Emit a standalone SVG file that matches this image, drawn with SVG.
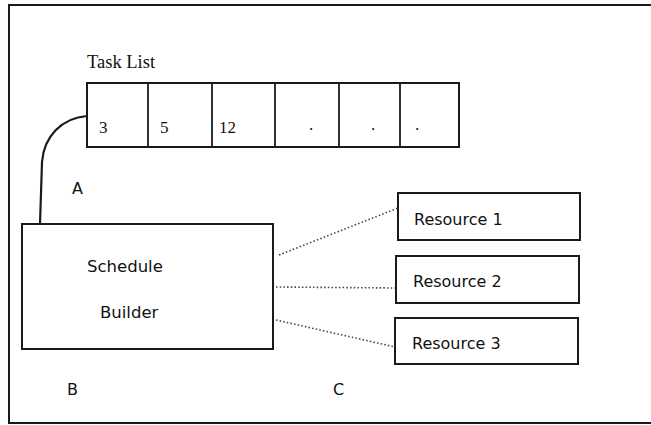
<svg xmlns="http://www.w3.org/2000/svg" width="651" height="425" viewBox="0 0 651 425">
<style>
.box{fill:#fff;stroke:#1a1a1a;stroke-width:2}
.cell{stroke:#1a1a1a;stroke-width:1.8}
.serif{font-family:"Liberation Serif","Times New Roman",serif;fill:#111}
.sans{font-family:"DejaVu Sans","Liberation Sans",sans-serif;fill:#111}
.dot{fill:none;stroke:#444;stroke-width:1.6;stroke-dasharray:1.5 2.2}
.solid{fill:none;stroke:#1a1a1a;stroke-width:2.2}
</style>
<rect width="651" height="425" fill="#fff"/>
<g id="frame">
<path d="M651,5 L9,5 L9,423 L651,423" fill="none" stroke="#1a1a1a" stroke-width="2"/>
</g>
<g id="task-list">
<text class="serif" x="87" y="68" font-size="18.5">Task List</text>
<rect class="box" x="87" y="83" width="372" height="64"/>
<line class="cell" x1="148" y1="83" x2="148" y2="147"/>
<line class="cell" x1="212" y1="83" x2="212" y2="147"/>
<line class="cell" x1="275" y1="83" x2="275" y2="147"/>
<line class="cell" x1="339" y1="83" x2="339" y2="147"/>
<line class="cell" x1="400" y1="83" x2="400" y2="147"/>
<text class="serif" x="99" y="133" font-size="17">3</text>
<text class="serif" x="160" y="133" font-size="17">5</text>
<text class="serif" x="219" y="133" font-size="17">12</text>
<text class="serif" x="309" y="130" font-size="17">.</text>
<text class="serif" x="371" y="130" font-size="17">.</text>
<text class="serif" x="415" y="130" font-size="17">.</text>
</g>
<g id="schedule-builder">
<rect class="box" x="22" y="224" width="251" height="125"/>
<text class="sans" x="87" y="272" font-size="16.5">Schedule</text>
<text class="sans" x="100" y="318" font-size="16.5">Builder</text>
</g>
<g id="resource-1">
<rect class="box" x="398" y="193" width="182" height="47"/>
<text class="sans" x="414" y="225" font-size="16">Resource 1</text>
</g>
<g id="resource-2">
<rect class="box" x="396" y="256" width="183" height="47"/>
<text class="sans" x="413" y="287" font-size="16">Resource 2</text>
</g>
<g id="resource-3">
<rect class="box" x="395" y="318" width="183" height="46"/>
<text class="sans" x="412" y="349" font-size="16">Resource 3</text>
</g>
<g id="labels">
<text class="sans" x="72" y="194" font-size="16">A</text>
<text class="sans" x="67" y="395" font-size="16">B</text>
<text class="sans" x="333" y="395" font-size="16">C</text>
</g>
<g id="connectors">
<path class="solid" d="M87,116 C62,118 44,136 42,162 L40,224"/>
<line class="dot" x1="279" y1="255" x2="398" y2="208" stroke="#888"/>
<line class="dot" x1="276" y1="287" x2="396" y2="288"/>
<line class="dot" x1="276" y1="320" x2="395" y2="347"/>
</g>
</svg>
